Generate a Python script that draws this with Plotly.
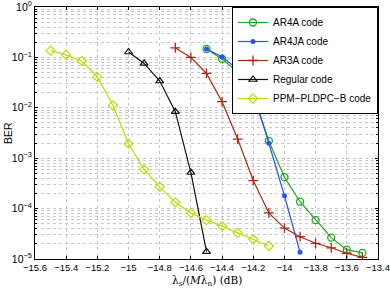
import plotly.graph_objects as go

x_ppm = [-15.5, -15.4, -15.3, -15.2, -15.1, -15.0, -14.9, -14.8, -14.7, -14.6, -14.5, -14.4, -14.3, -14.2, -14.1]
y_ppm = [0.136, 0.112, 0.085, 0.041, 0.0112, 0.00194, 6.0e-4, 2.7e-4, 1.33e-4, 8.2e-5, 5.9e-5, 4.5e-5, 3.3e-5, 2.46e-5, 1.81e-5]

x_reg = [-15.0, -14.9, -14.8, -14.7, -14.6, -14.5]
y_reg = [0.128, 0.076, 0.034, 0.0084, 5.2e-4, 1.4e-5]

x_ar3a = [-14.7, -14.6, -14.5, -14.4, -14.3, -14.2, -14.1, -14.0, -13.9, -13.8, -13.7, -13.6, -13.5]
y_ar3a = [0.154, 0.100, 0.048, 0.0132, 0.0024, 3.6e-4, 8.2e-5, 4.1e-5, 2.77e-5, 2.05e-5, 1.67e-5, 1.3e-5, 1.08e-5]

x_ar4a = [-14.5, -14.4, -14.3, -14.2, -14.1, -14.0, -13.9, -13.8, -13.7, -13.6, -13.5]
y_ar4a = [0.147, 0.093, 0.051, 0.0171, 0.0022, 4.2e-4, 1.37e-4, 5.9e-5, 2.65e-5, 1.53e-5, 1.32e-5]

x_ar4ja = [-14.5, -14.4, -14.3, -14.2, -14.1, -14.0, -13.9]
y_ar4ja = [0.147, 0.103, 0.058, 0.0208, 0.00198, 1.8e-4, 1.36e-5]

x_ticks = [-15.6, -15.4, -15.2, -15.0, -14.8, -14.6, -14.4, -14.2, -14.0, -13.8, -13.6, -13.4]
x_ticklabels = ["\u221215.6", "\u221215.4", "\u221215.2", "\u221215", "\u221214.8", "\u221214.6",
                "\u221214.4", "\u221214.2", "\u221214", "\u221213.8", "\u221213.6", "\u221213.4"]
y_ticks = [1, 0.1, 0.01, 0.001, 1e-4, 1e-5]
y_ticklabels = ["10<sup>0</sup>", "10<sup>\u22121</sup>", "10<sup>\u22122</sup>",
                "10<sup>\u22123</sup>", "10<sup>\u22124</sup>", "10<sup>\u22125</sup>"]

fig = go.Figure()
fig.add_trace(go.Scatter(x=x_ar4a, y=y_ar4a, name="AR4A code", mode="lines+markers",
                         line=dict(color="#1aaa1a", width=1.2),
                         marker=dict(symbol="circle-open", size=7, color="#1aaa1a", line=dict(width=1.3))))
fig.add_trace(go.Scatter(x=x_ar4ja, y=y_ar4ja, name="AR4JA code", mode="lines+markers",
                         line=dict(color="#2a50ff", width=1.2),
                         marker=dict(symbol="circle", size=5, color="#2a50ff")))
fig.add_trace(go.Scatter(x=x_ar3a, y=y_ar3a, name="AR3A code", mode="lines+markers",
                         line=dict(color="#a82a12", width=1.2),
                         marker=dict(symbol="cross-thin", size=7, color="#a82a12", line=dict(width=1.3, color="#a82a12"))))
fig.add_trace(go.Scatter(x=x_reg, y=y_reg, name="Regular code", mode="lines+markers",
                         line=dict(color="#111111", width=1.2),
                         marker=dict(symbol="triangle-up-open", size=7, color="#111111", line=dict(width=1.2))))
fig.add_trace(go.Scatter(x=x_ppm, y=y_ppm, name="PPM\u2212PLDPC\u2212B code", mode="lines+markers",
                         line=dict(color="#bcdc0a", width=1.2),
                         marker=dict(symbol="diamond-open", size=7, color="#bcdc0a", line=dict(width=1.2))))

fig.update_layout(
    width=390, height=291,
    margin=dict(l=35, r=12, t=7, b=32, autoexpand=False),
    paper_bgcolor="white", plot_bgcolor="white",
    font=dict(family="Liberation Sans, Arial", size=10, color="black"),
    showlegend=True,
    legend=dict(x=1, y=1, xanchor="right", yanchor="top", bgcolor="white",
                bordercolor="black", borderwidth=1, font=dict(size=10),
                itemwidth=30, tracegroupgap=0),
)
fig.update_xaxes(range=[-15.6, -13.4], tickvals=x_ticks, ticktext=x_ticklabels,
                 showline=True, linecolor="black", linewidth=1, mirror="ticks",
                 ticks="inside", ticklen=3, tickcolor="black", automargin=False,
                 ticklabeloverflow="allow",
                 showgrid=True, gridcolor="#c8c8c8", griddash="dot", gridwidth=1,
                 zeroline=False, tickfont=dict(size=9.5))
fig.update_yaxes(type="log", range=[-5, 0], tickvals=y_ticks, ticktext=y_ticklabels,
                 showline=True, linecolor="black", linewidth=1, mirror="ticks",
                 ticks="inside", ticklen=3, tickcolor="black", automargin=False,
                 ticklabeloverflow="allow",
                 showgrid=True, gridcolor="#c8c8c8", griddash="dot", gridwidth=1,
                 minor=dict(dtick="D1", showgrid=True, gridcolor="#c8c8c8", griddash="dot",
                            ticks="inside", ticklen=2, tickcolor="black"),
                 zeroline=False, tickfont=dict(size=10.5))

fig.add_annotation(text="\u03bb<sub>s</sub>/(<i>M</i>\u03bb<sub>n</sub>) (dB)", xref="paper", yref="paper",
                   x=0.5, y=0, yshift=-31, showarrow=False, xanchor="center", yanchor="bottom",
                   font=dict(family="DejaVu Serif, Liberation Serif", size=10.5))
fig.add_annotation(text="BER", xref="paper", yref="paper", x=0, xshift=-27, y=0.5,
                   showarrow=False, textangle=-90, xanchor="center", yanchor="middle",
                   font=dict(size=10.5))

fig.write_html("out.html", config={"displayModeBar": False},
               post_script="document.body.style.margin='0';document.body.style.overflow='hidden';")
